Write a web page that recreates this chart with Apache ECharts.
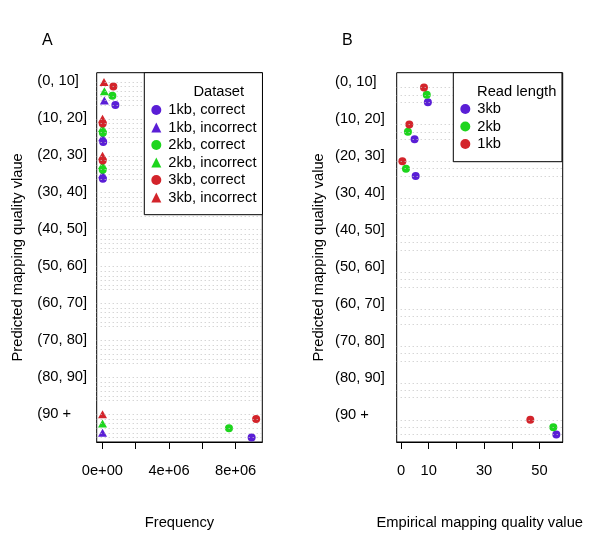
<!DOCTYPE html>
<html>
<head>
<meta charset="utf-8">
<script src="https://cdn.jsdelivr.net/npm/echarts@6/dist/echarts.min.js"></script>
<style>html,body{margin:0;padding:0;background:#fff}#c{width:600px;height:533px}</style>
</head>
<body>
<div id="c"></div>
<script>
// ---- data ----
const groups = ['(0, 10]','(10, 20]','(20, 30]','(30, 40]','(40, 50]','(50, 60]','(60, 70]','(70, 80]','(80, 90]','(90 +'];
// Panel A: frequency per predicted MAPQ bin (null = no point)
const a1kbCorrect   = [780000, 50000, 30000, null, null, null, null, null, null, 8960000];
const a1kbIncorrect = [120000, 20000, 10000, null, null, null, null, null, null, 10000];
const a2kbCorrect   = [600000, 30000, 20000, null, null, null, null, null, null, 7600000];
const a2kbIncorrect = [120000, 10000, 10000, null, null, null, null, null, null, 10000];
const a3kbCorrect   = [660000, 20000, 20000, null, null, null, null, null, null, 9230000];
const a3kbIncorrect = [100000, 10000, 10000, null, null, null, null, null, null, 10000];
const seriesNamesA = ['1kb, correct','1kb, incorrect','2kb, correct','2kb, incorrect','3kb, correct','3kb, incorrect'];
// Panel B: empirical mapping quality per predicted MAPQ bin
const b3kb = [9.7, 4.9, 5.3, null, null, null, null, null, null, 56.1];
const b2kb = [9.3, 2.5, 1.8, null, null, null, null, null, null, 55.0];
const b1kb = [8.3, 3.0, 0.5, null, null, null, null, null, null, 46.7];
const seriesNamesB = ['3kb','2kb','1kb'];
// tick values / labels
const xTicksA = [0, 2e6, 4e6, 6e6, 8e6];
const xLabelsA = [0, 4e6, 8e6];
const xTicksB = [0, 10, 20, 30, 40, 50];
const xLabelsB = [0, 10, 30, 50];

// ---- styling ----
const BLUE = '#5A1ED6', GREEN = '#1DD51D', RED = '#D3242B';
const FONT = 'Liberation Sans';
const FS = 14.7;

// dotchart-like layout: groups stacked top to bottom, n items per group, 2 gap rows
function layout(n) {
  const step = n + 2;
  const G = groups.length;
  const base = k => step * (G - 1 - k);
  const rows = [];
  for (let k = 0; k < G; k++) for (let s = 0; s < n; s++) rows.push(base(k) + s + 1);
  const labelPos = groups.map((g, k) => base(k) + n + 1);
  return {base, rows, labelPos, max: step * G};
}
const LA = layout(6), LB = layout(3);

function pts(vals, L, s) {
  const out = [];
  vals.forEach((v, k) => { if (v != null) out.push([v, L.base(k) + s + 1]); });
  return out;
}
function sci(v) {
  const s = Number(v).toExponential(0);
  return s.replace(/e([+-])(\d)$/, 'e$10$2');
}

const gridTop = 72.7, gridH = 369.3;
const chart = echarts.init(document.getElementById('c'), null, {renderer: 'canvas'});

// shiftPx: visual downward nudge of the group labels (pixels)
function yAxisFor(gi, L, margin, title, gap, shiftPx) {
  const unit = L.max / gridH;
  const d = shiftPx * unit;
  const map = {};
  L.labelPos.forEach((p, k) => map[p] = groups[k]);
  return {
    type: 'value', gridIndex: gi, min: 0, max: L.max,
    axisLine: {show: false}, axisTick: {show: false}, splitLine: {show: false},
    axisLabel: {
      show: true, customValues: L.labelPos.map(p => p - d), align: 'left', margin: margin,
      formatter: v => map[Math.round(v + d)] || '', color: '#000', fontFamily: FONT, fontSize: FS
    },
    name: title, nameLocation: 'middle', nameRotate: 90, nameGap: gap,
    nameTextStyle: {color: '#000', fontFamily: FONT, fontSize: FS}
  };
}
function xAxisFor(gi, min, max, ticks, labels, fmt, title) {
  return {
    type: 'value', gridIndex: gi, min: min, max: max,
    axisLine: {show: true, lineStyle: {color: '#000', width: 1}},
    axisTick: {show: true, customValues: ticks, length: 7, inside: false, lineStyle: {color: '#000', width: 1}},
    axisLabel: {show: true, customValues: labels, formatter: fmt, margin: 21, color: '#000', fontFamily: FONT, fontSize: FS},
    splitLine: {show: false},
    name: title, nameLocation: 'middle', nameGap: 73,
    nameTextStyle: {color: '#000', fontFamily: FONT, fontSize: FS}
  };
}
function gridLines(xi, yi, L) {
  return {
    type: 'scatter', xAxisIndex: xi, yAxisIndex: yi, data: [], z: 1, silent: true,
    markLine: {
      silent: true, symbol: 'none', label: {show: false}, animation: false,
      lineStyle: {type: [1, 3], color: '#C4C4C4', width: 1},
      emphasis: {disabled: true},
      data: L.rows.map(r => ({yAxis: r}))
    }
  };
}
function sc(name, xi, yi, data, color, symbol) {
  return {
    type: 'scatter', name: name, xAxisIndex: xi, yAxisIndex: yi, data: data, z: 3,
    symbol: symbol, symbolSize: symbol === 'triangle' ? [9, 8] : 8,
    itemStyle: {color: color, opacity: 1}, emphasis: {disabled: true}
  };
}

const valsA = [a1kbCorrect, a1kbIncorrect, a2kbCorrect, a2kbIncorrect, a3kbCorrect, a3kbIncorrect];
const colA = [BLUE, BLUE, GREEN, GREEN, RED, RED];
const symA = ['circle', 'triangle', 'circle', 'triangle', 'circle', 'triangle'];
const valsB = [b3kb, b2kb, b1kb];
const colB = [BLUE, GREEN, RED];

const series = [gridLines(0, 0, LA), gridLines(1, 1, LB)];
valsA.forEach((v, s) => series.push(sc(seriesNamesA[s], 0, 0, pts(v, LA, s), colA[s], symA[s])));
valsB.forEach((v, s) => series.push(sc(seriesNamesB[s], 1, 1, pts(v, LB, s), colB[s], 'circle')));

const legendText = {color: '#000', fontFamily: FONT, fontSize: FS, lineHeight: 17.5, padding: [0, 0, 0, 2]};

chart.setOption({
  animation: false,
  backgroundColor: '#fff',
  grid: [
    {left: 96.7, top: gridTop, width: 165.6, height: gridH, outerBoundsMode: 'none', containLabel: false, show: true, borderColor: '#000', borderWidth: 1, backgroundColor: 'transparent'},
    {left: 396.7, top: gridTop, width: 166, height: gridH, outerBoundsMode: 'none', containLabel: false, show: true, borderColor: '#000', borderWidth: 1, backgroundColor: 'transparent'}
  ],
  xAxis: [
    xAxisFor(0, -340000, 9600000, xTicksA, xLabelsA, sci, 'Frequency'),
    xAxisFor(1, -1.55, 58.4, xTicksB, xLabelsB, v => String(v), 'Empirical mapping quality value')
  ],
  yAxis: [
    yAxisFor(0, LA, 59.4, 'Predicted mapping quality vlaue', 71.5, 4),
    yAxisFor(1, LB, 61.7, 'Predicted mapping quality value', 70.5, 2)
  ],
  legend: [
    {
      data: seriesNamesA, orient: 'vertical', left: 144.3, top: 72.7,
      padding: [28.5, 6, 8.5, 7], itemGap: 0, itemWidth: 10, itemHeight: 10,
      backgroundColor: '#fff', borderColor: '#000', borderWidth: 1, borderRadius: 0,
      textStyle: legendText, selectedMode: false, z: 10
    },
    {
      data: seriesNamesB, orient: 'vertical', left: 453.3, top: 72.7,
      padding: [27.5, 61, 9, 7], itemGap: 0, itemWidth: 10, itemHeight: 10,
      backgroundColor: '#fff', borderColor: '#000', borderWidth: 1, borderRadius: 0,
      textStyle: legendText, selectedMode: false, z: 10
    }
  ],
  graphic: [
    {type: 'text', left: 42, top: 33, z: 20, style: {text: 'A', fill: '#000', font: '16px "Liberation Sans"'}},
    {type: 'text', left: 342, top: 33, z: 20, style: {text: 'B', fill: '#000', font: '16px "Liberation Sans"'}},
    {type: 'text', x: 218.7, y: 92, z: 20, style: {text: 'Dataset', fill: '#000', font: FS + 'px "Liberation Sans"', align: 'center', verticalAlign: 'middle'}},
    {type: 'text', x: 516.7, y: 92, z: 20, style: {text: 'Read length', fill: '#000', font: FS + 'px "Liberation Sans"', align: 'center', verticalAlign: 'middle'}}
  ],
  series: series
});
</script>
</body>
</html>
